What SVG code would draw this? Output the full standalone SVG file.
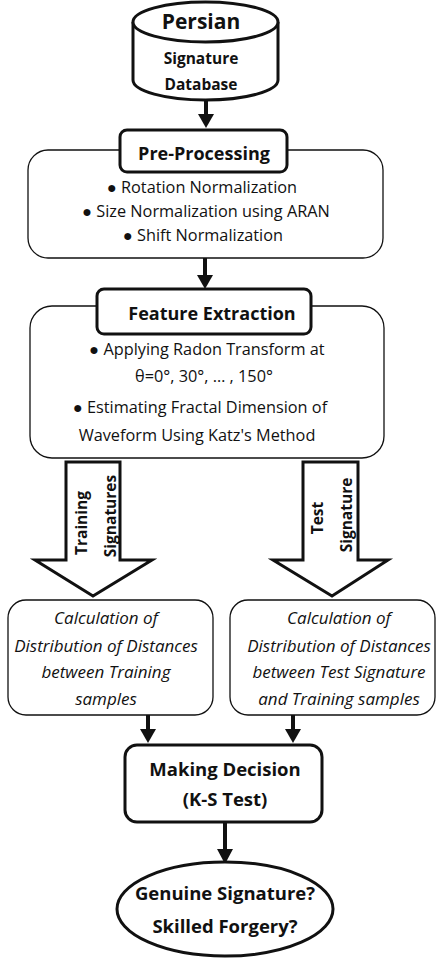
<svg xmlns="http://www.w3.org/2000/svg" width="436" height="963" viewBox="0 0 436 963">
<defs>
<style>
text{font-family:"Open Sans","Liberation Sans",sans-serif;fill:#111;text-anchor:middle}
.b{font-weight:bold}
.i{font-style:italic;font-size:17px}
.body{font-size:16.3px}
.thick{fill:#fff;stroke:#111;stroke-width:3}
.thin{fill:#fff;stroke:#111;stroke-width:1.3}
.conn{stroke:#111;stroke-width:4;fill:none}
.head{fill:#111;stroke:none}
.lab{font-weight:bold;font-size:15.5px}
</style>
</defs>
<rect width="436" height="963" fill="#fff"/>
<g id="connectors">
<line class="conn" x1="206" y1="100" x2="206" y2="116"/>
<polygon class="head" points="198,114 214,114 206,128"/>
<line class="conn" x1="205" y1="258" x2="205" y2="277"/>
<polygon class="head" points="197,275 213,275 205,289"/>
<line class="conn" x1="148" y1="715" x2="148" y2="731"/>
<polygon class="head" points="140,729 156,729 148,743"/>
<line class="conn" x1="293" y1="715" x2="293" y2="731"/>
<polygon class="head" points="285,729 301,729 293,743"/>
<line class="conn" x1="225" y1="822" x2="225" y2="851"/>
<polygon class="head" points="217,849 233,849 225,864"/>
<polygon class="thick" points="66,462 120,462 120,560 152,560 93,596 35,560 66,560"/>
<polygon class="thick" points="303,462 358,462 358,560 388,560 332,596 273,560 303,560"/>
</g>
<g id="database">
<path class="thick" d="M133,22 L133,80 A72.5,20 0 0 0 278,80 L278,22"/>
<ellipse class="thick" cx="205.5" cy="22" rx="72.5" ry="20"/>
<text class="b" x="201" y="29" font-size="21">Persian</text>
<text class="b" x="201" y="64" font-size="15.5">Signature</text>
<text class="b" x="201" y="90" font-size="15.5">Database</text>
</g>
<g id="preprocessing">
<rect class="thin" x="28" y="150" width="355" height="108" rx="20"/>
<rect class="thick" x="120" y="130" width="167" height="42" rx="7"/>
<text class="b" x="204" y="160" font-size="18">Pre-Processing</text>
<text class="body" x="202" y="193">● Rotation Normalization</text>
<text class="body" x="206" y="217">● Size Normalization using ARAN</text>
<text class="body" x="203" y="241">● Shift Normalization</text>
</g>
<g id="feature">
<rect class="thin" x="30" y="306" width="354" height="152" rx="22"/>
<rect class="thick" x="97" y="289" width="214" height="45" rx="7"/>
<text class="b" x="212" y="320" font-size="18">Feature Extraction</text>
<text class="body" x="207" y="355">● Applying Radon Transform at</text>
<text class="body" x="204" y="382">θ=0°, 30°, … , 150°</text>
<text class="body" x="200" y="413">● Estimating Fractal Dimension of</text>
<text class="body" x="197" y="441">Waveform Using Katz's Method</text>
</g>
<g id="training-arrow-label">
<text class="lab" transform="translate(87,523) rotate(-90)">Training</text>
<text class="lab" transform="translate(116,516) rotate(-90)">Signatures</text>
</g>
<g id="test-arrow-label">
<text class="lab" transform="translate(323,518) rotate(-90)">Test</text>
<text class="lab" transform="translate(352,515) rotate(-90)">Signature</text>
</g>
<g id="training-distances">
<rect class="thin" x="8" y="600" width="205" height="115" rx="18"/>
<text class="i" x="106" y="624">Calculation of</text>
<text class="i" x="106" y="652">Distribution of Distances</text>
<text class="i" x="106" y="678">between Training</text>
<text class="i" x="106" y="705">samples</text>
</g>
<g id="test-distances">
<rect class="thin" x="230" y="600" width="205" height="115" rx="18"/>
<text class="i" x="339" y="624">Calculation of</text>
<text class="i" x="339" y="652">Distribution of Distances</text>
<text class="i" x="339" y="678">between Test Signature</text>
<text class="i" x="339" y="705">and Training samples</text>
</g>
<g id="decision">
<rect class="thick" x="125" y="745" width="197" height="77" rx="12"/>
<text class="b" x="225" y="776" font-size="18.5">Making Decision</text>
<text class="b" x="225" y="806" font-size="18.5">(K-S Test)</text>
</g>
<g id="result">
<ellipse class="thick" cx="225" cy="909" rx="108" ry="47"/>
<text class="b" x="225" y="900" font-size="18.5">Genuine Signature?</text>
<text class="b" x="225" y="933" font-size="18.5">Skilled Forgery?</text>
</g>
</svg>
